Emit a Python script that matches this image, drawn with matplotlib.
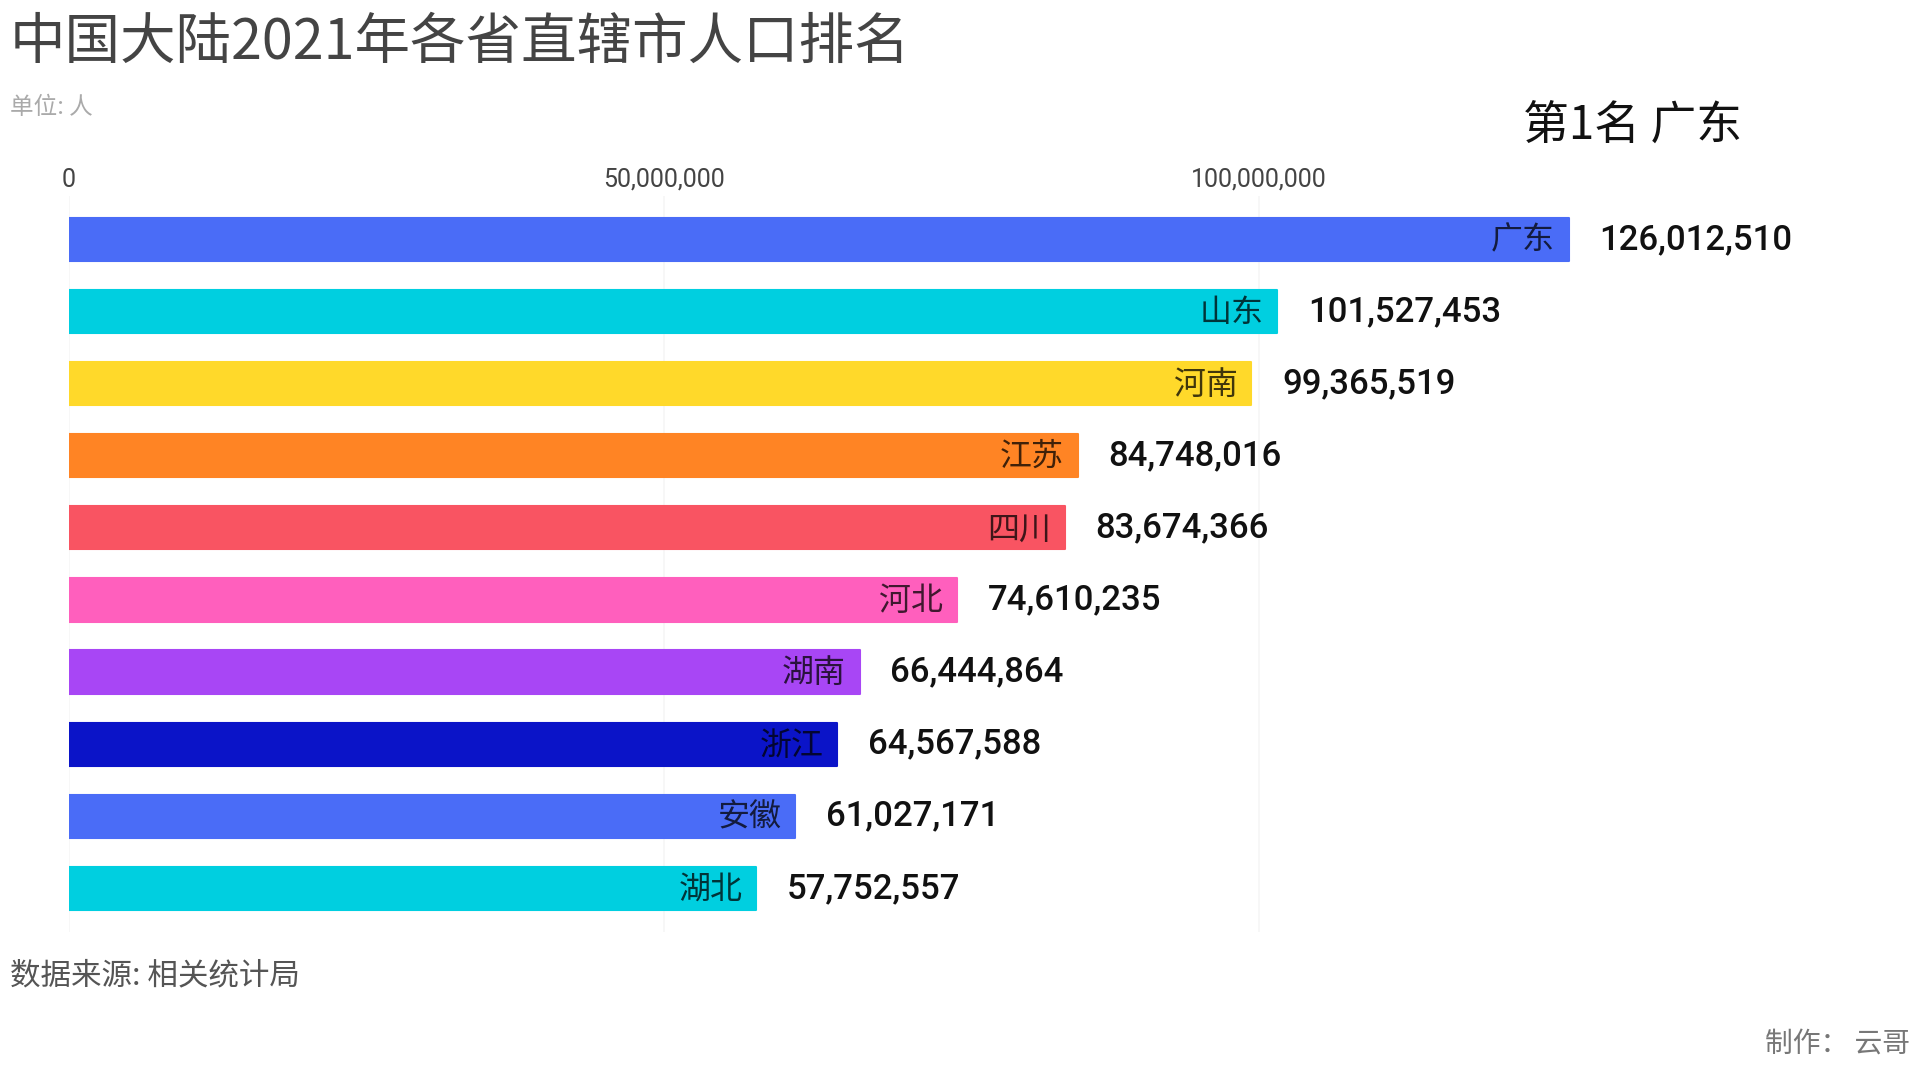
import matplotlib
matplotlib.use('Agg')
import matplotlib.pyplot as plt
import matplotlib.colors as mcolors
from matplotlib.ticker import FuncFormatter

plt.rcParams['font.family'] = ['Noto Sans CJK SC', 'DejaVu Sans']

provinces = ['广东', '山东', '河南', '江苏', '四川', '河北', '湖南', '浙江', '安徽', '湖北']
population = [126012510, 101527453, 99365519, 84748016, 83674366,
              74610235, 66444864, 64567588, 61027171, 57752557]
colors = ['#4a6cf7', '#00cfe0', '#ffd92a', '#ff8424', '#f95462',
          '#ff5fbd', '#a846f5', '#0b14c8', '#4a6cf7', '#00cfe0']
ticks = [0, 50000000, 100000000]

fig = plt.figure(figsize=(19.2, 10.8), dpi=100)
ax = fig.add_axes([69 / 1920, 0.1374, (1854 - 69) / 1920, 0.681])

ypos = list(range(len(provinces)))
bars = ax.barh(ypos, population, height=0.6, color=colors,
               edgecolor=colors, linewidth=1.5, joinstyle='round', zorder=2)

ax.set_xlim(0, 150000000)
ax.set_ylim(9.6, -0.6)

ax.xaxis.tick_top()
ax.set_xticks(ticks)
ax.xaxis.set_major_formatter(FuncFormatter(lambda v, p: f'{int(v):,}'))
ax.tick_params(axis='x', length=0, pad=3, labelsize=18, labelcolor='#444444')
for lbl in ax.get_xticklabels():
    lbl.set_fontfamily(['Roboto', 'DejaVu Sans'])
ax.set_yticks([])
ax.grid(axis='x', color='#f6f6f6', linewidth=1.2, zorder=0)
for s in ax.spines.values():
    s.set_visible(False)

for bar, name, val, c in zip(bars, provinces, population, colors):
    y = bar.get_y() + bar.get_height() / 2
    dark = tuple(v * 0.25 for v in mcolors.to_rgb(c))
    ax.annotate(name, xy=(val, y), xytext=(-10, -1), textcoords='offset points',
                ha='right', va='center', fontsize=23, color=dark, fontweight='medium')
    ax.annotate(f'{val:,}', xy=(val, y), xytext=(22, 0), textcoords='offset points',
                ha='left', va='center', fontsize=25, color='#111111',
                fontfamily=['Roboto', 'DejaVu Sans'], fontweight='medium')

fig.text(0.005, 0.960, '中国大陆2021年各省直辖市人口排名', fontsize=40,
         color='#444444', ha='left', va='center')
fig.text(0.005, 0.900, '单位: 人', fontsize=17, color='#aaaaaa', ha='left', va='center')
fig.text(0.8505, 0.884, f'第1名 {provinces[0]}', fontsize=33, color='#111111',
         ha='center', va='center')
fig.text(0.005, 0.0963, '数据来源: 相关统计局', fontsize=22, color='#555555',
         ha='left', va='center')
fig.text(0.995, 0.034, '制作： 云哥', fontsize=20, color='#777777',
         ha='right', va='center')

fig.savefig('out.png', dpi=100, facecolor='white')
